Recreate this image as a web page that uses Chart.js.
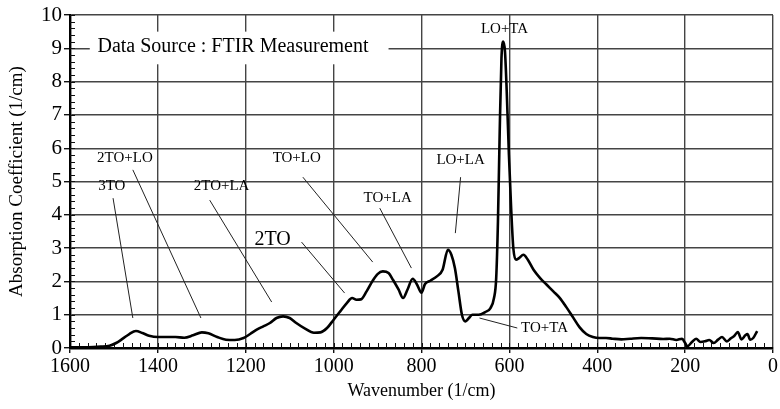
<!DOCTYPE html>
<html>
<head>
<meta charset="utf-8">
<script src="https://cdn.jsdelivr.net/npm/chart.js@4.4.1/dist/chart.umd.min.js"></script>
<style>
  html, body { margin: 0; padding: 0; background: #fff; }
  #wrap { width: 780px; height: 409px; }
</style>
</head>
<body>
<div id="wrap"><canvas id="ftirChart"></canvas></div>
<script>
// FTIR absorption spectrum, wavenumber in 1/cm (descending)
const wavenumber = [
  1600, 1560, 1530, 1510, 1495, 1480, 1465, 1450, 1435, 1420, 1400, 1380, 1360, 1340,
  1320, 1300, 1285, 1265, 1245, 1225, 1205, 1190, 1175, 1160, 1145, 1130, 1115, 1100,
  1085, 1065, 1045, 1030, 1015, 1000, 985, 970, 958, 948, 938, 925, 912, 900, 888, 875,
  865, 852, 842, 832, 820, 810, 800, 792, 780, 765, 752, 740, 732, 724, 716, 708, 700,
  692, 684, 670, 655, 643, 635, 630, 626, 622, 618, 614, 610, 606, 601, 596, 591, 585,
  578, 568, 558, 545, 530, 515, 500, 485, 470, 455, 440, 425, 410, 395, 380, 365, 345,
  325, 300, 275, 250, 235, 220, 207, 200, 195, 185, 175, 165, 155, 145, 135, 125, 116,
  105, 95, 89, 80, 72, 63, 58, 52, 45, 36
];
const absorption = [
  0.02, 0.02, 0.04, 0.07, 0.15, 0.28, 0.42, 0.51, 0.45, 0.37, 0.33, 0.33, 0.33, 0.31,
  0.38, 0.47, 0.44, 0.33, 0.25, 0.24, 0.30, 0.42, 0.55, 0.65, 0.75, 0.90, 0.95, 0.90,
  0.75, 0.58, 0.46, 0.47, 0.60, 0.85, 1.10, 1.35, 1.50, 1.45, 1.46, 1.70, 2.00, 2.22, 2.30, 2.25,
  2.05, 1.75, 1.50, 1.75, 2.08, 1.90, 1.66, 1.92, 2.02, 2.15, 2.35, 2.95, 2.80, 2.40, 1.70, 1.00, 0.80,
  0.90, 1.00, 1.00, 1.08, 1.20, 1.50, 2.10, 3.80, 6.50, 8.70, 9.20, 8.90, 7.70, 5.80, 4.20, 3.00, 2.65,
  2.70, 2.80, 2.65, 2.35, 2.10, 1.90, 1.70, 1.50, 1.22, 0.92, 0.62, 0.42, 0.33, 0.30, 0.30, 0.28, 0.26,
  0.28, 0.30, 0.29, 0.27, 0.28, 0.24, 0.28, 0.15, 0.05, 0.17, 0.28, 0.18, 0.20, 0.24, 0.15, 0.25, 0.33,
  0.20, 0.30, 0.35, 0.48, 0.26, 0.38, 0.42, 0.25, 0.30, 0.51
];

const xTicks = [1600, 1400, 1200, 1000, 800, 600, 400, 200, 0];
const yTicks = [0, 1, 2, 3, 4, 5, 6, 7, 8, 9, 10];

// phonon mode labels, anchored in data units
const modeNames = ['3TO', '2TO+LO', '2TO+LA', '2TO', 'TO+LO', 'TO+LA', 'LO+LA', 'LO+TA', 'TO+TA'];
const modeLabelX = [1505, 1475, 1255, 1139, 1084, 877, 711, 611, 520];
const modeLabelY = [4.86, 5.70, 4.86, 3.24, 5.70, 4.50, 5.65, 9.58, 0.60];
// leader lines: start near label, end near the feature (null = no leader)
const leaderFromX = [1502, 1457, 1282, 1073, 1070, 895, 711, null, 668];
const leaderFromY = [4.50, 5.35, 4.44, 3.18, 5.13, 4.20, 5.13, null, 0.90];
const leaderToX = [1457, 1302, 1141, 975, 911, 823, 723, null, 582];
const leaderToY = [0.90, 0.90, 1.38, 1.65, 2.58, 2.40, 3.45, null, 0.60];

const sourceNote = 'Data Source : FTIR Measurement';

const serif = '"Liberation Serif", "Times New Roman", serif';

const points = wavenumber.map((w, i) => ({ x: w, y: absorption[i] }));

// white panel with the data source note, minor ticks
const notePlugin = {
  id: 'notePlugin',
  beforeDatasetsDraw(chart) {
    const ctx = chart.ctx;
    const xs = chart.scales.x, ys = chart.scales.y;
    const area = chart.chartArea;

    ctx.save();
    // minor ticks along the axes
    ctx.strokeStyle = '#111';
    ctx.lineWidth = 1;
    ctx.beginPath();
    for (let w = 20; w < 1600; w += 20) {
      const px = Math.round(xs.getPixelForValue(w)) + 0.5;
      ctx.moveTo(px, area.bottom);
      ctx.lineTo(px, area.bottom - 5);
    }
    for (let v = 0.2; v < 10; v += 0.2) {
      const py = Math.round(ys.getPixelForValue(v)) + 0.5;
      ctx.moveTo(area.left, py);
      ctx.lineTo(area.left + 5, py);
    }
    ctx.stroke();

    // note box
    const x0 = xs.getPixelForValue(1555), x1 = xs.getPixelForValue(875);
    const y0 = ys.getPixelForValue(9.5), y1 = ys.getPixelForValue(8.52);
    ctx.fillStyle = '#fff';
    ctx.fillRect(x0, y0, x1 - x0, y1 - y0);
    ctx.fillStyle = '#000';
    ctx.font = '20px ' + serif;
    ctx.textAlign = 'center';
    ctx.textBaseline = 'middle';
    ctx.fillText(sourceNote, xs.getPixelForValue(1229), ys.getPixelForValue(9.05));
    ctx.restore();
  },
  afterDatasetsDraw(chart) {
    const ctx = chart.ctx;
    const xs = chart.scales.x, ys = chart.scales.y;
    ctx.save();
    ctx.strokeStyle = '#222';
    ctx.lineWidth = 1;
    modeNames.forEach((name, i) => {
      if (leaderFromX[i] !== null) {
        ctx.beginPath();
        ctx.moveTo(xs.getPixelForValue(leaderFromX[i]), ys.getPixelForValue(leaderFromY[i]));
        ctx.lineTo(xs.getPixelForValue(leaderToX[i]), ys.getPixelForValue(leaderToY[i]));
        ctx.stroke();
      }
      ctx.fillStyle = '#000';
      ctx.font = (name === '2TO' ? '20px ' : '15px ') + serif;
      ctx.textAlign = 'center';
      ctx.textBaseline = 'middle';
      ctx.fillText(name, xs.getPixelForValue(modeLabelX[i]), ys.getPixelForValue(modeLabelY[i]));
    });
    ctx.restore();
  }
};

new Chart(document.getElementById('ftirChart'), {
  type: 'line',
  data: {
    datasets: [{
      data: points,
      borderColor: '#000',
      borderWidth: 2.6,
      pointRadius: 0,
      cubicInterpolationMode: 'monotone',
      fill: false
    }]
  },
  options: {
    responsive: true,
    maintainAspectRatio: false,
    animation: false,
    layout: { padding: { top: 15, right: 6, left: 0, bottom: 0 } },
    plugins: {
      legend: { display: false },
      tooltip: { enabled: false }
    },
    scales: {
      x: {
        type: 'linear',
        reverse: true,
        min: 0,
        max: 1600,
        afterBuildTicks(scale) { scale.ticks = xTicks.map(v => ({ value: v })); },
        afterFit(scale) { scale.height = 61; },
        ticks: {
          color: '#000',
          font: { family: serif, size: 20 },
          padding: 2,
          maxRotation: 0,
          callback: v => String(v)
        },
        grid: { color: '#444', lineWidth: 1.4, tickLength: 5, tickColor: '#111' },
        border: { color: '#000', width: 2.4 },
        title: {
          display: true,
          text: 'Wavenumber (1/cm)',
          color: '#000',
          font: { family: serif, size: 18 },
          padding: { top: 0, bottom: 7 }
        }
      },
      y: {
        min: 0,
        max: 10,
        afterBuildTicks(scale) { scale.ticks = yTicks.map(v => ({ value: v })); },
        afterFit(scale) { scale.width = 70; },
        ticks: { color: '#000', font: { family: serif, size: 21 }, padding: 2, callback: v => String(v) },
        grid: { color: '#444', lineWidth: 1.4, tickLength: 6, tickColor: '#111' },
        border: { color: '#000', width: 2.4 },
        title: {
          display: true,
          text: 'Absorption Coefficient (1/cm)',
          color: '#000',
          font: { family: serif, size: 19 },
          padding: { top: 6, bottom: 0 }
        }
      }
    }
  },
  plugins: [notePlugin]
});
</script>
</body>
</html>
